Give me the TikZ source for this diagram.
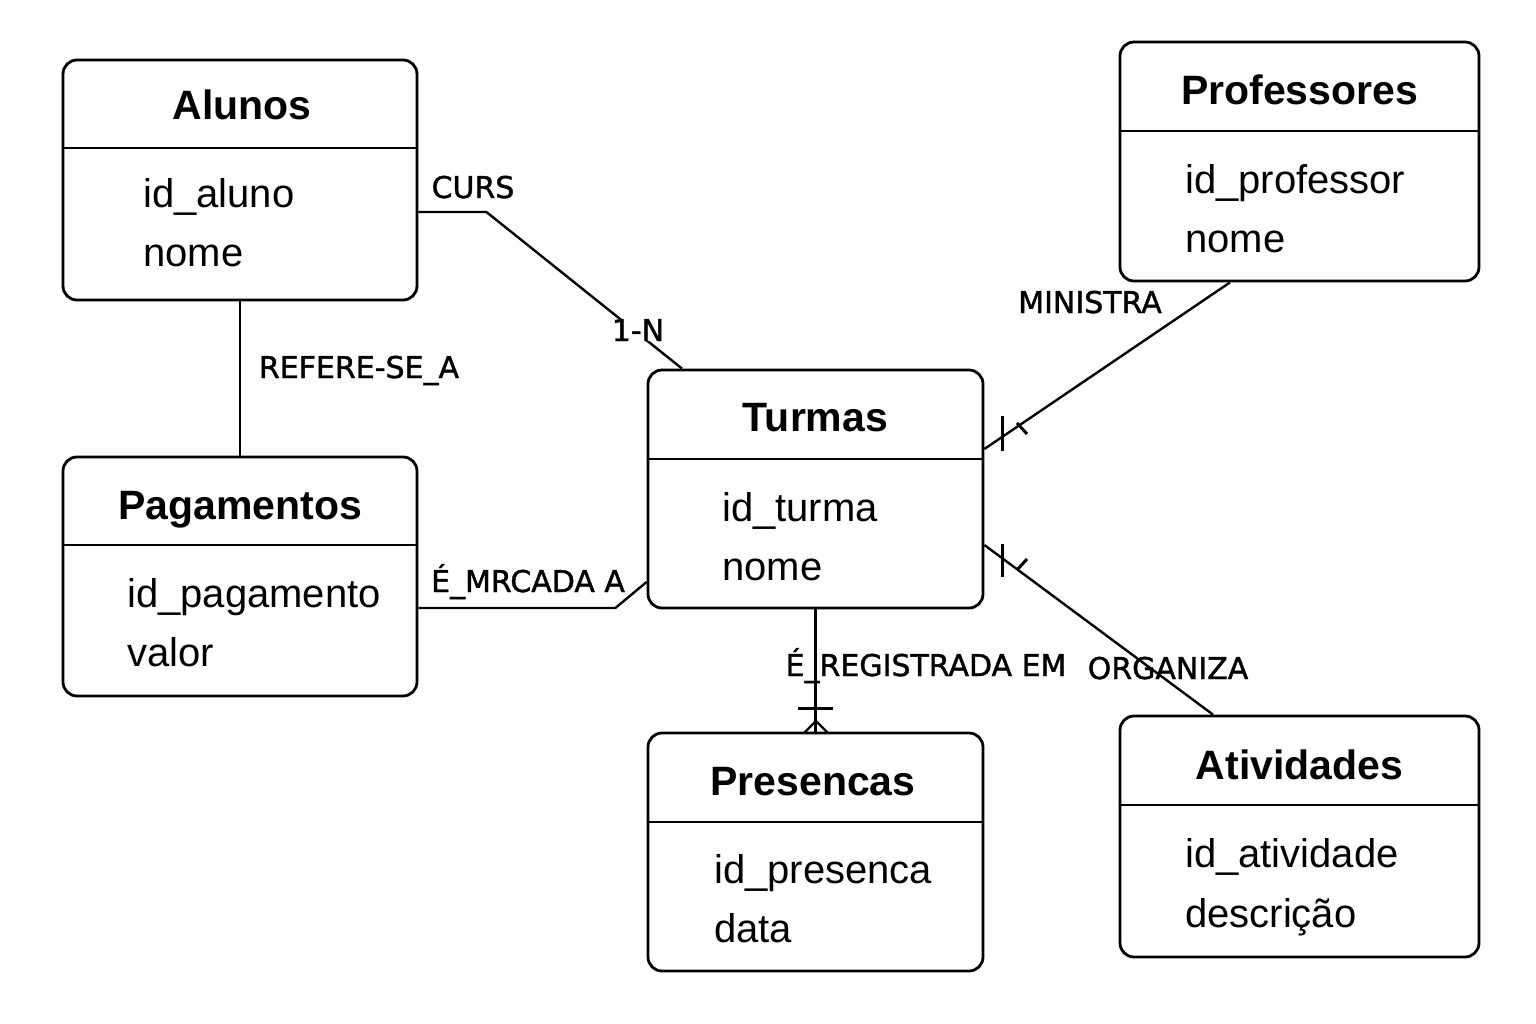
\documentclass[tikz,border=0pt]{standalone}
\usepackage{fontspec}
\setmainfont{Liberation Sans}
\newfontfamily\labfamily[FakeBold=1.3]{DejaVu Sans}
\begin{document}
\begin{tikzpicture}[x=1pt,y=-1pt,
  ent/.style={draw, line width=2.8pt, rounded corners=14pt, inner sep=0pt},
  hline/.style={line width=2.8pt},
  ttl/.style={anchor=base, font=\fontsize{41}{48}\selectfont\bfseries, inner sep=0pt},
  attr/.style={anchor=base west, font=\fontsize{40}{46}\selectfont, inner sep=0pt},
  lab/.style={anchor=base, font=\labfamily\fontsize{30}{34}\selectfont, inner sep=1pt},
  conn/.style={line width=2.4pt},
  cardmark/.style={line width=3pt}]
\useasboundingbox[fill=white] (0,0) rectangle (1536,1024);

% Entities
\node[ent, minimum width=354pt, minimum height=240pt] (alunos) at (240,180) {};
\draw[hline] (alunos.west |- 0,148) -- (alunos.east |- 0,148);
\node[ttl] (alunosT) at (242,120) {Alunos};
\node[attr] (alunosA) at (143,208) {id\_aluno};
\node[attr] (alunosB) at (143,267) {nome};

\node[ent, minimum width=359pt, minimum height=239pt] (prof) at (1299.5,161.5) {};
\draw[hline] (prof.west |- 0,131) -- (prof.east |- 0,131);
\node[ttl] (profT) at (1299.5,105) {Professores};
\node[attr] (profA) at (1185,194) {id\_professor};
\node[attr] (profB) at (1185,253) {nome};

\node[ent, minimum width=335pt, minimum height=238pt] (turmas) at (815.5,489) {};
\draw[hline] (turmas.west |- 0,459) -- (turmas.east |- 0,459);
\node[ttl] (turmasT) at (815.5,431) {Turmas};
\node[attr] (turmasA) at (722,521) {id\_turma};
\node[attr] (turmasB) at (722,580) {nome};

\node[ent, minimum width=354pt, minimum height=239pt] (pag) at (240,576.5) {};
\draw[hline] (pag.west |- 0,545) -- (pag.east |- 0,545);
\node[ttl] (pagT) at (240,519) {Pagamentos};
\node[attr] (pagA) at (127,607) {id\_pagamento};
\node[attr] (pagB) at (127,666) {valor};

\node[ent, minimum width=335pt, minimum height=238pt] (pres) at (815.5,852) {};
\draw[hline] (pres.west |- 0,822) -- (pres.east |- 0,822);
\node[ttl] (presT) at (813,795) {Presencas};
\node[attr] (presA) at (714,883) {id\_presenca};
\node[attr] (presB) at (714,942) {data};

\node[ent, minimum width=359pt, minimum height=241pt] (ativ) at (1299.5,836.5) {};
\draw[hline] (ativ.west |- 0,805) -- (ativ.east |- 0,805);
\node[ttl] (ativT) at (1299.5,779) {Atividades};
\node[attr] (ativA) at (1185,867) {id\_atividade};
\node[attr] (ativB) at (1185,927) {descrição};

% Connectors
\draw[conn] ([yshift=-32pt]alunos.east) -- ++(68,0) -- ([xshift=-133.5pt]turmas.north);
\draw[conn] (alunos.south) -- (pag.north);
\draw[conn] ([yshift=-31.5pt]pag.east) -- ++(197,0) -- ([yshift=-93pt]turmas.west);
\draw[conn] (turmas.south) -- (pres.north);
\draw[conn] ([yshift=40pt]turmas.east) -- ([xshift=-69.5pt]prof.south);
\draw[conn] ([yshift=-56pt]turmas.east) -- ([xshift=-86.5pt]ativ.north);

% Cardinality marks
\draw[cardmark] (798,708) -- (833,708);
\draw[conn] (804,733) -- (816,721) -- (828,733);
\draw[cardmark] (1002,416) -- (1002,451);
\draw[cardmark] (1017,423) -- (1027,434);
\draw[cardmark] (1002,544) -- (1002,577);
\draw[cardmark] (1017,570) -- (1027,559);

% Labels
\node[lab] (lCurs) at (473,198) {CURS};
\node[lab, fill=white, inner sep=0pt] (l1N) at (638,341) {1-N};
\node[lab] (lMin) at (1090,313) {MINISTRA};
\node[lab] (lRef) at (359,378) {REFERE-SE\_A};
\node[lab] (lMar) at (528,592) {É\_MRCADA A};
\node[lab] (lReg) at (926,676) {É\_REGISTRADA EM};
\node[lab] (lOrg) at (1168,679) {ORGANIZA};
\end{tikzpicture}
\end{document}
